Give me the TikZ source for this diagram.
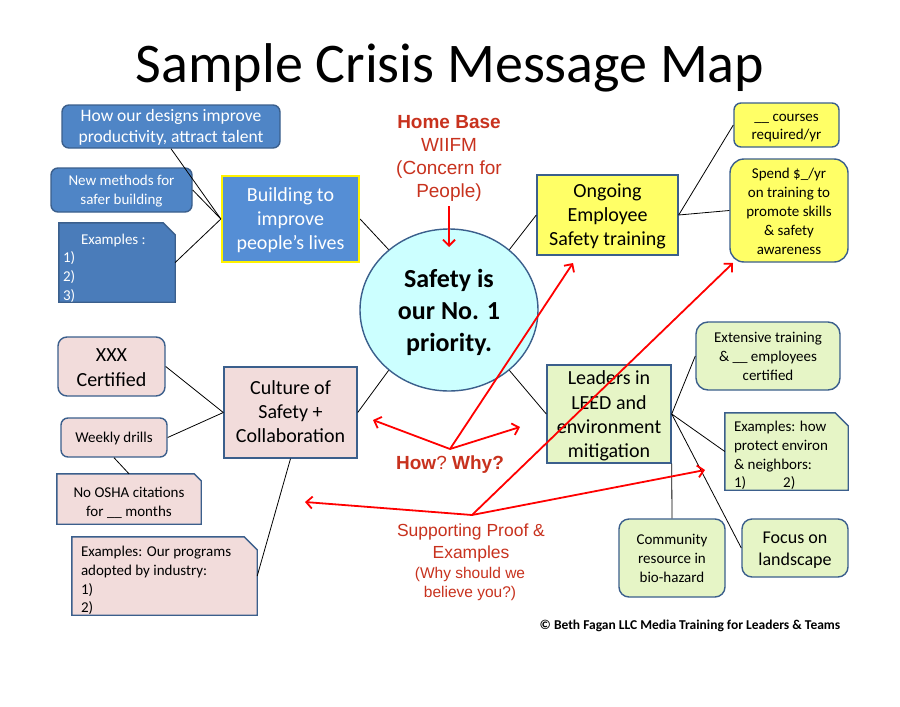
\documentclass[tikz,border=0pt]{standalone}
\usepackage{fontspec}
\setmainfont{Carlito}
\newfontfamily\redfont{Liberation Sans}
\usetikzlibrary{shapes.geometric,arrows.meta}
\pgfdeclarelayer{bottom}
\pgfdeclarelayer{background}
\pgfsetlayers{bottom,background,main}
\definecolor{bord}{HTML}{3B5F8C}
\definecolor{blueA}{HTML}{4F85C6}
\definecolor{blueB}{HTML}{4A7CBA}
\definecolor{blueC}{HTML}{558ED5}
\definecolor{yel}{HTML}{FFFF66}
\definecolor{pinkc}{HTML}{F2DCDB}
\definecolor{greenc}{HTML}{E6F5C6}
\definecolor{cyanc}{HTML}{CCFFFF}
\definecolor{redtext}{HTML}{C8321E}
\newcommand\fsz[2]{\fontsize{#1}{#2}\selectfont}
\newcommand\shiftdn[2]{\raisebox{-#1}[\height][\depth]{#2}}
\newcommand\ctr[2][2.5pt]{\raisebox{-#1}[\height][\depth]{\begin{tabular}{@{}c@{}}#2\end{tabular}}}
\newcommand\snipfill[3]{%
  \begin{pgfonlayer}{background}
    \filldraw[draw=bord, line width=1.4pt, fill=#2, line join=miter]
      (#1.south west) -- (#1.north west) -- ([xshift=-#3]#1.north east)
      -- ([yshift=-#3]#1.north east) -- (#1.south east) -- cycle;
  \end{pgfonlayer}}
\begin{document}
\begin{tikzpicture}[x=1pt,y=-1pt,
  bx/.style={draw=bord, line width=1.4pt, inner sep=0pt, align=center},
  snipbox/.style={inner sep=0pt},
  conn/.style={draw=black, line width=0.8pt},
  redarrow/.style={draw=red, line width=1.8pt, -{Straight Barb[length=6pt,width=12pt]}},
  redtxt/.style={text=redtext, align=center}
]
\begin{pgfonlayer}{bottom}
  \fill[white] (0,0) rectangle (900,707);
\end{pgfonlayer}
\useasboundingbox (0,0) rectangle (900,707);

% title
\node[font=\fsz{56}{60}, anchor=base] (title) at (450,82) {Sample Crisis Message Map};

% blue group
\node[bx, fill=blueA, text=white, rounded corners=7pt, minimum width=218pt, minimum height=43pt, font=\fsz{17.5}{21}] (b1) at (171,126.5) {\ctr[1.5pt]{How our designs improve\\productivity, attract talent}};
\node[bx, fill=blueA, text=white, rounded corners=7pt, minimum width=141pt, minimum height=44pt, font=\fsz{15}{19}] (b2) at (121.5,190) {\ctr[1.5pt]{New methods for\\safer building}};
\node[snipbox, minimum width=116pt, minimum height=79pt, text=white, font=\fsz{15}{18.7}] (ex1) at (117,262.5) {\shiftdn{6pt}{\begin{tabular}{@{}p{108pt}@{}}\hspace*{18pt}Examples :\\1)\\2)\\3)\end{tabular}}};
\snipfill{ex1}{blueB}{12pt}
\node[bx, draw=yellow, line width=2.2pt, fill=blueC, text=white, minimum width=137pt, minimum height=86pt, font=\fsz{20}{24}] (build) at (290.5,219) {\ctr[1.5pt]{Building to\\improve\\people’s lives}};

% centre
\node[ellipse, draw=bord, line width=1.4pt, fill=cyanc, inner sep=0pt, minimum width=178pt, minimum height=162pt, align=center, font=\bfseries\fsz{26}{32}] (circ) at (449,310) {\ctr[3pt]{Safety is\\our No. 1\\priority.}};
\node[redtxt, font=\redfont\fsz{19}{23}] (hb) at (449,158) {\textbf{Home Base}\\WIIFM\\(Concern for\\People)};

% yellow group
\node[bx, fill=yel, minimum width=141pt, minimum height=80pt, font=\fsz{20}{24}] (ong) at (607.5,215) {\ctr[1.5pt]{Ongoing\\Employee\\Safety training}};
\node[bx, fill=yel, rounded corners=7pt, minimum width=105pt, minimum height=44pt, font=\fsz{15}{18}] (crs) at (786.5,125) {\ctr[2pt]{\_\_ courses\\required/yr}};
\node[bx, fill=yel, rounded corners=14pt, minimum width=118pt, minimum height=103pt, font=\fsz{15}{19}] (spend) at (789,210.5) {\ctr[2pt]{Spend \$\_/yr\\on training to\\promote skills\\\& safety\\awareness}};

% pink group
\node[bx, fill=pinkc, rounded corners=9pt, minimum width=107pt, minimum height=59pt, font=\fsz{20}{25}] (xxx) at (111.5,366.5) {\ctr[2pt]{XXX\\Certified}};
\node[bx, fill=pinkc, rounded corners=7pt, minimum width=106pt, minimum height=39pt, font=\fsz{15}{19}] (weekly) at (114,437.5) {\ctr[1pt]{Weekly drills}};
\node[snipbox, minimum width=144pt, minimum height=50pt, font=\fsz{15}{19}] (osha) at (129,499) {\ctr[4.5pt]{No OSHA citations\\for \_\_ months}};
\snipfill{osha}{pinkc}{7pt}
\node[bx, fill=pinkc, minimum width=133pt, minimum height=91pt, font=\fsz{20}{24}] (cult) at (290.5,412.5) {\ctr[1.5pt]{Culture of\\Safety +\\Collaboration}};
\node[snipbox, minimum width=185pt, minimum height=78pt, font=\fsz{15}{18.8}] (ex2) at (164.5,576) {\shiftdn{5pt}{\begin{tabular}{@{}p{167pt}@{}}Examples: Our programs\\adopted by industry:\\1)\\2)\end{tabular}}};
\snipfill{ex2}{pinkc}{13pt}

% green group
\node[bx, fill=greenc, minimum width=124pt, minimum height=98pt, font=\fsz{20}{24.3}] (lead) at (609,414) {\ctr[2.5pt]{Leaders in\\LEED and\\environment\\mitigation}};
\node[bx, fill=greenc, rounded corners=12pt, minimum width=144pt, minimum height=68pt, font=\fsz{15}{19}] (ext) at (768,356) {\ctr[2pt]{Extensive training\\\& \_\_ employees\\certified}};
\node[snipbox, minimum width=123pt, minimum height=77pt, font=\fsz{15}{18.7}] (ex3) at (786.5,451.5) {\shiftdn{4.5pt}{\begin{tabular}{@{}p{105pt}@{}}Examples: how\\protect environ\\\& neighbors:\\1)\hspace{37pt}2)\end{tabular}}};
\snipfill{ex3}{greenc}{13pt}
\node[bx, fill=greenc, rounded corners=10pt, minimum width=106pt, minimum height=78pt, font=\fsz{15}{19}] (comm) at (672,558) {\ctr[2pt]{Community\\resource in\\bio-hazard}};
\node[bx, fill=greenc, rounded corners=10pt, minimum width=106pt, minimum height=58pt, font=\fsz{18}{22}] (focus) at (795,548) {\ctr[2pt]{Focus on\\landscape}};

% red texts
\node[redtxt, font=\redfont\fsz{19}{23}] (hwtext) at (450,465) {\textbf{How}?\ \textbf{Why?}};
\node[redtxt, font=\redfont\fsz{17.5}{22}] (sp1) at (471,543) {Supporting Proof \&\\Examples};
\node[redtxt, font=\redfont\fsz{15.5}{19.5}] (sp2) at (470,584) {(Why should we\\believe you?)};

\node[font=\bfseries\fsz{13.5}{16}] (copy) at (690,626) {© Beth Fagan LLC Media Training for Leaders \& Teams};

% connectors
\draw[conn] (b1.south) -- (build.west);
\draw[conn] (b2.east) -- (build.west);
\draw[conn] (ex1.east) -- (build.west);
\draw[conn] (build.east) -- (circ.135);
\draw[conn] (circ.45) -- (ong.west);
\draw[conn] (circ.225) -- (cult.east);
\draw[conn] (circ.-45) -- (lead.west);
\draw[conn] (ong.east) -- (crs.west);
\draw[conn] (ong.east) -- (spend.west);
\draw[conn] (xxx.east) -- (cult.west);
\draw[conn] (weekly.east) -- (cult.west);
\draw[conn] (weekly.south) -- (osha.north);
\draw[conn] (cult.south) -- (ex2.east);
\draw[conn] (lead.east) -- (ext.west);
\draw[conn] (lead.east) -- (ex3.west);
\draw[conn] (lead.east) -- (focus.west);
\draw[conn] (lead.south east) -- (comm.north);

% red arrows
\coordinate (hbstart) at (449,206);
\coordinate (hbtip) at (449,247);
\coordinate (hw) at (450,449);
\coordinate (hwL) at (373,420);
\coordinate (hwR) at (520,427);
\coordinate (hwU) at (573,263);
\coordinate (sp) at (472,515);
\coordinate (spL) at (305,502);
\coordinate (spR) at (705,470);
\coordinate (spU) at (733,263);
\draw[redarrow] (hbstart) -- (hbtip);
\draw[redarrow] (hw) -- (hwL);
\draw[redarrow] (hw) -- (hwR);
\draw[redarrow] (hw) -- (hwU);
\draw[redarrow] (sp) -- (spL);
\draw[redarrow] (sp) -- (spR);
\draw[redarrow] (sp) -- (spU);
\end{tikzpicture}
\end{document}
